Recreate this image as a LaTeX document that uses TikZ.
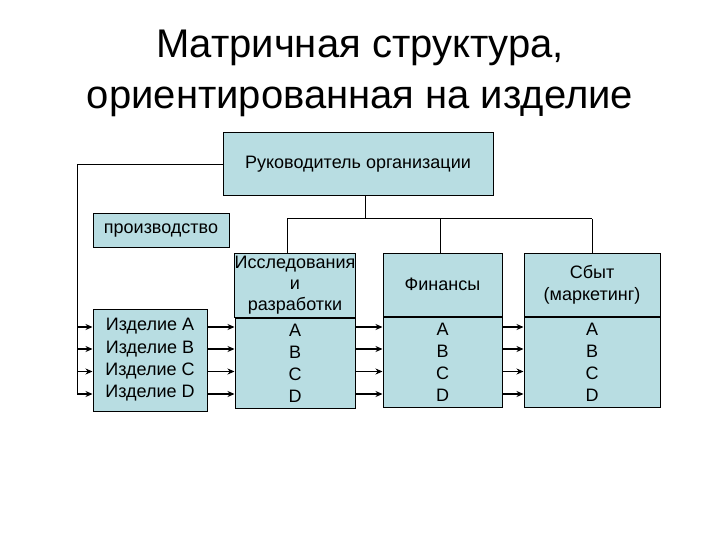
\documentclass[tikz,border=0pt]{standalone}
\usepackage{fontspec}
\setmainfont{Liberation Sans}
\usetikzlibrary{arrows.meta}
\definecolor{boxfill}{RGB}{184,221,226}
\tikzset{
  orgbox/.style={draw=black, line width=1pt, fill=boxfill, inner sep=0pt, align=center,
    font=\fontsize{18}{22}\selectfont},
  link/.style={line width=1pt},
  arr/.style={line width=1.2pt, -{Stealth[length=7pt,width=6pt]}},
}
\begin{document}
\begin{tikzpicture}[x=1pt,y=-1pt]
\useasboundingbox (0,0) rectangle (720,540);
% title
\node[font=\fontsize{40}{51}\selectfont, align=center, anchor=base] (title) at (360,109)
  {Матричная структура,\\ориентированная на изделие};
% head
\node[orgbox, minimum width=270, minimum height=63] (top) at (358,164.5) {Руководитель организации};
\node[orgbox, minimum width=136, minimum height=33] (prod) at (161,230.5) {производство};
% products
\node[orgbox, minimum width=114, minimum height=102, font=\fontsize{18}{22.3}\selectfont] (izd) at (150,360)
  {Изделие A\\Изделие B\\Изделие C\\Изделие D};
% research
\node[orgbox, minimum width=120, minimum height=64, font=\fontsize{18}{21}\selectfont] (rdh) at (295,285)
  {Исследования\\и\\разработки};
\node[orgbox, minimum width=120, minimum height=90, anchor=north, font=\fontsize{18}{22}\selectfont] (rdb) at (rdh.south)
  {A\\B\\C\\D};
% finance
\node[orgbox, minimum width=119, minimum height=63] (fh) at (442.5,284.5) {Финансы};
\node[orgbox, minimum width=119, minimum height=90, anchor=north] (fb) at (fh.south)
  {A\\B\\C\\D};
% sales
\node[orgbox, minimum width=136, minimum height=63] (sh) at (592,284.5) {Сбыт\\(маркетинг)};
\node[orgbox, minimum width=136, minimum height=90, anchor=north] (sb) at (sh.south)
  {A\\B\\C\\D};
% tree
\coordinate (j) at (365,219);
\coordinate (jr) at (287,219);
\coordinate (jf) at (440,219);
\coordinate (js) at (592,219);
\draw[link] (j |- top.south) -- (j);
\draw[link] (jr) -- (js);
\draw[link] (jr) -- (jr |- rdh.north);
\draw[link] (jf) -- (jf |- fh.north);
\draw[link] (js) -- (js |- sh.north);
% left line
\coordinate (lc) at (77,164.5);
\coordinate (l1) at (77,327);
\coordinate (l2) at (77,349);
\coordinate (l3) at (77,371.5);
\coordinate (l4) at (77,394);
\draw[link] (top.west) -- (lc) -- (l4);
\foreach \i in {1,2,3,4} {
  \draw[arr] (l\i) -- (l\i -| izd.west);
  \draw[arr] (izd.east |- l\i) -- (rdb.west |- l\i);
  \draw[arr] (rdb.east |- l\i) -- (fb.west |- l\i);
  \draw[arr] (fb.east |- l\i) -- (sb.west |- l\i);
}
\end{tikzpicture}
\end{document}
